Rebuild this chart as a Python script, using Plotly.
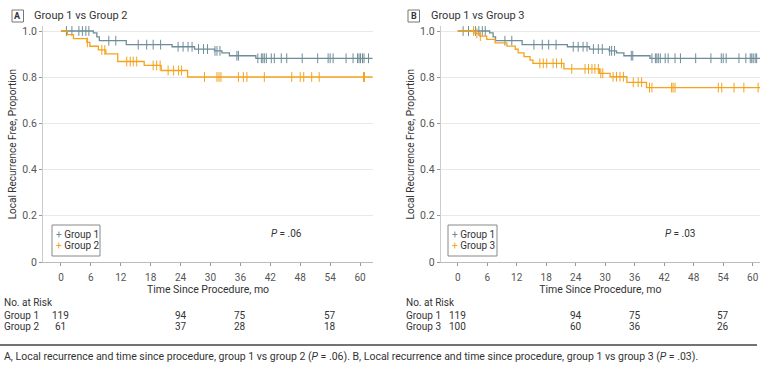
import numpy as np
import plotly.graph_objects as go

W, H = 760, 372

# ---------------- data ----------------
# Group 1 (shared by both panels)
g1_times = [0, 6.5, 7.2, 7.7, 13.1, 22.3, 26.8, 30.8, 32.3, 33.8, 39.1, 62.5]
g1_surv = [1.0, 0.992, 0.975, 0.958, 0.941, 0.932, 0.922, 0.914, 0.905, 0.893, 0.882, 0.882]
g1_censor = [1.1, 2.2, 3.6, 4.3, 5.0, 5.6, 9.6, 11.0, 15.5, 17.2, 18.5, 20.0, 23.5, 24.5,
             25.5, 26.3, 27.6, 28.6, 29.4, 30.9, 31.3, 31.9, 35.3, 35.6, 39.5, 40.2, 40.5,
             40.8, 41.2, 42.2, 42.8, 44.2, 45.3, 48.4, 51.5, 53.6, 54.0, 54.6, 57.2, 58.6,
             59.5, 59.8, 60.1, 60.5, 60.8, 61.7]

# Group 2 (panel A)
g2_times = [0, 1.3, 2.5, 5.2, 5.8, 7.5, 9.0, 11.4, 16.7, 20.1, 25.4, 62.5]
g2_surv = [1.0, 0.984, 0.967, 0.951, 0.934, 0.918, 0.901, 0.868, 0.851, 0.829, 0.801, 0.801]
g2_censor = [5.3, 8.2, 8.8, 13.2, 13.9, 14.5, 15.2, 18.5, 19.2, 19.9, 21.5, 22.6, 23.6,
             24.2, 28.8, 31.3, 31.7, 32.1, 35.6, 36.6, 37.3, 40.8, 46.3, 48.0, 48.7,
             50.3, 51.8, 60.7, 60.9]

# Group 3 (panel B)
g3_times = [0, 3.5, 4.5, 5.9, 7.6, 10.0, 11.7, 12.3, 13.5, 14.7, 15.3, 21.6, 28.8, 31.0,
            34.4, 38.4, 62.5]
g3_surv = [1.0, 0.99, 0.978, 0.964, 0.949, 0.935, 0.921, 0.905, 0.889, 0.874, 0.860,
           0.836, 0.817, 0.802, 0.778, 0.755, 0.755]
g3_censor = [3.2, 3.9, 4.6, 16.7, 17.4, 18.1, 19.4, 20.1, 21.1, 23.2, 25.9, 26.6, 27.3,
             27.9, 28.6, 29.1, 29.5, 31.6, 32.3, 33.0, 33.7, 35.7, 36.7, 37.4, 39.0, 39.5,
             43.5, 43.8, 44.2, 53.0, 53.7, 56.2, 58.2, 61.1]

x_ticks = [0, 6, 12, 18, 24, 30, 36, 42, 48, 54, 60]
y_ticks = [0, 0.2, 0.4, 0.6, 0.8, 1.0]
y_tick_labels = ["0", "0.2", "0.4", "0.6", "0.8", "1.0"]

risk_times = [0, 24, 36, 54]
risk_g1 = [119, 94, 75, 57]
risk_g2 = [61, 37, 28, 18]
risk_g3 = [100, 60, 36, 26]

p_values = [".06", ".03"]

# ---------------- styles ----------------
C1 = "#6f8c99"
C2 = "#f5a21c"
FONT = "Roboto"
TXT = "#333333"
TICK = "#555555"


def surv_at(times, surv, t):
    idx = np.searchsorted(np.asarray(times), np.asarray(t), side="right") - 1
    return np.asarray(surv)[idx]


def py(px):  # pixel from top -> paper y
    return 1 - px / H


def px_x(px):
    return px / W


fig = go.Figure()

panels = [
    dict(xa="x", ya="y", other=(g2_times, g2_surv, g2_censor), name2="Group 2",
         risk2=risk_g2, p=p_values[0]),
    dict(xa="x2", ya="y2", other=(g3_times, g3_surv, g3_censor), name2="Group 3",
         risk2=risk_g3, p=p_values[1]),
]

for pn in panels:
    for (tt, ss, cc), col in [((g1_times, g1_surv, g1_censor), C1), (pn["other"], C2)]:
        fig.add_trace(go.Scatter(x=tt, y=ss, mode="lines", line=dict(color=col, width=1.3, shape="hv"),
                                 xaxis=pn["xa"], yaxis=pn["ya"], showlegend=False, hoverinfo="skip"))
        fig.add_trace(go.Scatter(x=cc, y=surv_at(tt, ss, cc), mode="markers",
                                 marker=dict(symbol="line-ns", size=7, line=dict(color=col, width=1)),
                                 xaxis=pn["xa"], yaxis=pn["ya"], showlegend=False, hoverinfo="skip",
                                 cliponaxis=False))

# plot geometry (pixels)
yb, yt = 262, 26.4  # y=0 and y=1.02 positions
axA = (43, 373)
axB = (440.7, 760)

common_x = dict(tickvals=x_ticks, ticks="outside", ticklen=3, tickcolor="#999999",
                showline=True, linecolor="#bbbbbb", linewidth=1, showgrid=False, zeroline=False,
                automargin=False, ticklabeloverflow="allow", ticklabelstandoff=3,
                tickfont=dict(family=FONT, size=10, color=TICK),
                title=dict(text="Time Since Procedure, mo", font=dict(family=FONT, size=10.5, color=TXT),
                           standoff=3))
common_y = dict(range=[0, 1.02], tickvals=y_ticks, ticktext=y_tick_labels, ticks="outside", ticklen=3,
                tickcolor="#999999", showline=True, linecolor="#cccccc", linewidth=1,
                showgrid=True, gridcolor="#e8e8e8", gridwidth=1, zeroline=False, automargin=False,
                tickfont=dict(family=FONT, size=10.5, color=TICK),
                title=dict(text="Local Recurrence Free, Proportion",
                           font=dict(family=FONT, size=10, color=TXT), standoff=3))

fig.update_layout(
    width=W, height=H, margin=dict(l=0, r=0, t=0, b=0, autoexpand=False), autosize=False,
    paper_bgcolor="white", plot_bgcolor="white",
    xaxis=dict(domain=[px_x(axA[0]), px_x(axA[1])], range=[-3.6, 62.6], anchor="y", **common_x),
    yaxis=dict(domain=[py(yb), py(yt)], anchor="x", **common_y),
    xaxis2=dict(domain=[px_x(axB[0]), 1.0], range=[-3.46, 61.48], anchor="y2", **common_x),
    yaxis2=dict(domain=[py(yb), py(yt)], anchor="x2", **common_y),
    showlegend=False,
)

ann = []
shapes = []

# panel titles
for lab, title, bx, tx in [("A", "Group 1 vs Group 2", 12, 32), ("B", "Group 1 vs Group 3", 408, 429)]:
    shapes.append(dict(type="rect", xref="paper", yref="paper", x0=px_x(bx), x1=px_x(bx + 11.5),
                       y0=py(22), y1=py(10), line=dict(color="#777777", width=1)))
    ann.append(dict(xref="paper", yref="paper", x=px_x(bx + 5.75), y=py(16), text="<b>%s</b>" % lab,
                    showarrow=False, xanchor="center", yanchor="middle",
                    font=dict(family=FONT, size=9, color=TXT)))
    ann.append(dict(xref="paper", yref="paper", x=px_x(tx), y=py(16), text=title, showarrow=False,
                    xanchor="left", yanchor="middle", font=dict(family=FONT, size=11, color=TXT)))

# legends (manual boxes)
for pn, (lx0, lx1) in zip(panels, [(52, 100), (448, 497)]):
    shapes.append(dict(type="rect", xref="paper", yref="paper", x0=px_x(lx0), x1=px_x(lx1),
                       y0=py(256), y1=py(225), line=dict(color="#888888", width=1), fillcolor="white"))
    for i, (nm, col) in enumerate([("Group 1", C1), (pn["name2"], C2)]):
        ann.append(dict(xref="paper", yref="paper", x=px_x(lx0 + 2), y=py(234.5 + 11 * i),
                        text='<span style="color:%s">+</span> %s' % (col, nm), showarrow=False,
                        xanchor="left", yanchor="middle", font=dict(family=FONT, size=10, color=TXT)))

# P values
for pn in panels:
    ann.append(dict(xref=pn["xa"], yref=pn["ya"], x=45.3, y=0.125, text="<i>P</i> = %s" % pn["p"],
                    showarrow=False, xanchor="center", yanchor="middle",
                    font=dict(family=FONT, size=10, color=TXT)))

# number at risk tables
for pn, lx in zip(panels, [2, 404]):
    ann.append(dict(xref="paper", yref="paper", x=px_x(lx), y=py(302), text="No. at Risk",
                    showarrow=False, xanchor="left", yanchor="middle",
                    font=dict(family=FONT, size=10, color=TXT)))
    for row, (nm, vals) in enumerate([("Group 1", risk_g1), (pn["name2"], pn["risk2"])]):
        yy = py(315.5 + 10.5 * row)
        ann.append(dict(xref="paper", yref="paper", x=px_x(lx), y=yy, text=nm, showarrow=False,
                        xanchor="left", yanchor="middle", font=dict(family=FONT, size=10, color=TXT)))
        for t, v in zip(risk_times, vals):
            ann.append(dict(xref=pn["xa"], yref="paper", x=t, y=yy, text=str(v), showarrow=False,
                            xanchor="center", yanchor="middle",
                            font=dict(family=FONT, size=10, color=TXT)))

# separator and caption
shapes.append(dict(type="line", xref="paper", yref="paper", x0=0, x1=px_x(757), y0=py(345), y1=py(345),
                   line=dict(color="#444444", width=1.5)))
ann.append(dict(xref="paper", yref="paper", x=px_x(2), y=py(356.5),
                text="A, Local recurrence and time since procedure, group 1 vs group 2 (<i>P</i> = .06). "
                     "B, Local recurrence and time since procedure, group 1 vs group 3 (<i>P</i> = .03).",
                showarrow=False, xanchor="left", yanchor="middle",
                font=dict(family=FONT, size=10.5, color=TXT)))

fig.update_layout(annotations=ann, shapes=shapes)
fig.write_html("out.html", config={"displayModeBar": False, "responsive": False},
               post_script="document.body.style.margin='0';document.body.style.overflow='hidden';")
